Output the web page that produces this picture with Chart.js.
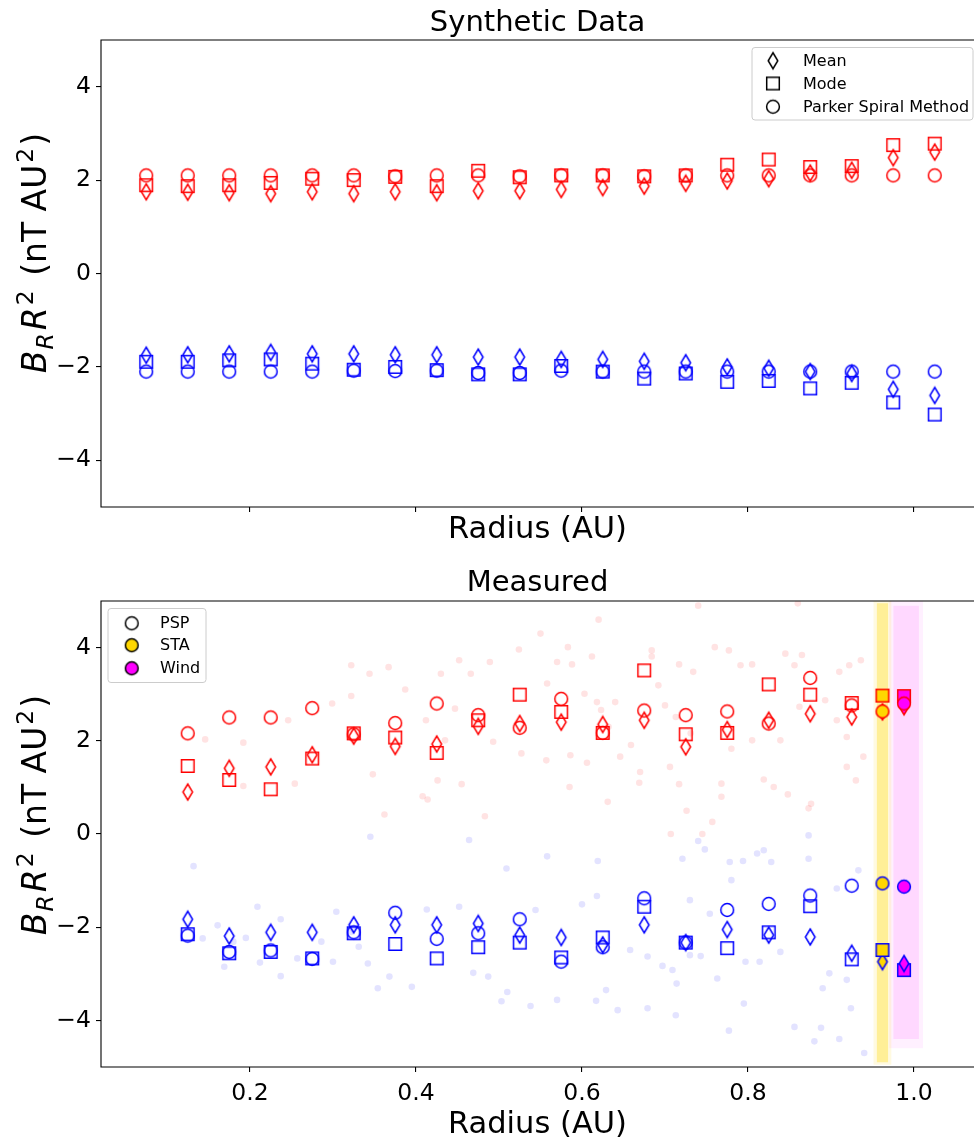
<!DOCTYPE html>
<html>
<head>
<meta charset="utf-8">
<script src="https://cdn.jsdelivr.net/npm/chart.js@4.4.0/dist/chart.umd.min.js"></script>
<style>
  html, body { margin: 0; padding: 0; background: #fff; }
  #wrap { position: relative; width: 974px; height: 1142px; overflow: hidden; }
  .panel { position: absolute; left: 0; width: 974px; }
  #top { top: 0; height: 560px; }
  #bot { top: 560px; height: 582px; }
</style>
</head>
<body>
<div id="wrap">
  <div class="panel" id="top"><canvas id="synChart"></canvas></div>
  <div class="panel" id="bot"><canvas id="measChart"></canvas></div>
</div>
<script>
// --- axes ---
const xTicks = [0.2, 0.4, 0.6, 0.8, 1.0];
const xTickLabels = ['0.2', '0.4', '0.6', '0.8', '1.0'];
const yTicks = [-4, -2, 0, 2, 4];
const yTickLabels = ['\u22124', '\u22122', '0', '2', '4'];

// --- Synthetic data (top panel) ---
const synR = [0.075, 0.125, 0.175, 0.225, 0.275, 0.325, 0.375, 0.425, 0.475, 0.525,
              0.575, 0.625, 0.675, 0.725, 0.775, 0.825, 0.875, 0.925, 0.975, 1.025];
const synMeanPos = [1.75, 1.74, 1.73, 1.71, 1.75, 1.71, 1.75, 1.73, 1.77, 1.77,
                    1.80, 1.84, 1.87, 1.93, 1.98, 2.03, 2.15, 2.21, 2.48, 2.60];
const synModePos = [1.89, 1.87, 1.89, 1.94, 2.03, 2.00, 2.07, 1.87, 2.20, 2.06,
                    2.10, 2.10, 2.08, 2.10, 2.33, 2.44, 2.28, 2.30, 2.75, 2.78];
const synPSPos   = [2.10, 2.10, 2.10, 2.10, 2.10, 2.10, 2.08, 2.10, 2.10, 2.08,
                    2.10, 2.10, 2.08, 2.10, 2.10, 2.10, 2.10, 2.10, 2.10, 2.10];
const synMeanNeg = [-1.75, -1.74, -1.72, -1.69, -1.72, -1.72, -1.74, -1.74, -1.79, -1.79,
                    -1.84, -1.84, -1.88, -1.91, -2.00, -2.03, -2.10, -2.14, -2.48, -2.61];
const synModeNeg = [-1.89, -1.89, -1.86, -1.84, -1.93, -2.06, -2.00, -2.07, -2.16, -2.16,
                    -1.98, -2.10, -2.25, -2.14, -2.32, -2.30, -2.46, -2.34, -2.76, -3.02];
const synPSNeg   = [-2.10, -2.10, -2.10, -2.10, -2.10, -2.08, -2.09, -2.08, -2.13, -2.13,
                    -2.08, -2.10, -2.10, -2.10, -2.10, -2.10, -2.10, -2.10, -2.10, -2.10];

// --- Measured (bottom panel), PSP bins ---
const pspR = [0.125, 0.175, 0.225, 0.275, 0.325, 0.375, 0.425, 0.475, 0.525,
              0.575, 0.625, 0.675, 0.725, 0.775, 0.825, 0.875, 0.925];
const pspMeanPos = [0.90, 1.41, 1.44, 1.70, 2.10, 1.88, 1.93, 2.31, 2.37,
                    2.40, 2.35, 2.44, 1.87, 2.24, 2.44, 2.58, 2.51];
const pspModePos = [1.46, 1.16, 0.96, 1.62, 2.16, 2.07, 1.74, 2.44, 2.99,
                    2.62, 2.17, 3.51, 2.14, 2.17, 3.21, 2.99, 2.81];
const pspPSPos   = [2.16, 2.50, 2.50, 2.70, 2.14, 2.38, 2.80, 2.55, 2.28,
                    2.90, 2.17, 2.65, 2.55, 2.63, 2.37, 3.35, 2.76];
const pspMeanNeg = [-1.83, -2.19, -2.11, -2.11, -1.95, -1.95, -1.95, -1.92, -2.17,
                    -2.22, -2.38, -1.95, -2.33, -2.05, -2.17, -2.21, -2.56];
const pspModeNeg = [-2.15, -2.56, -2.53, -2.67, -2.13, -2.36, -2.67, -2.43, -2.33,
                    -2.65, -2.22, -1.56, -2.33, -2.45, -2.11, -1.55, -2.69];
const pspPSNeg   = [-2.18, -2.53, -2.50, -2.68, -2.11, -1.69, -2.25, -2.13, -1.83,
                    -2.74, -2.43, -1.38, -2.33, -1.63, -1.50, -1.32, -1.11];

// STA and Wind (1 AU spacecraft)
const staR = [0.962];
const staMeanPos = [2.62], staModePos = [2.97], staPSPos = [2.63];
const staMeanNeg = [-2.74], staModeNeg = [-2.49], staPSNeg = [-1.06];
const windR = [0.988];
const windMeanPos = [2.73], windModePos = [2.96], windPSPos = [2.80];
const windMeanNeg = [-2.78], windModeNeg = [-2.92], windPSNeg = [-1.13];

// faint individual PSP samples [r, BrR2]
const pspDotsPos = [
  [0.322, 3.62], [0.367, 3.58], [0.344, 3.44], [0.430, 3.44], [0.466, 3.44], [0.452, 3.73],
  [0.489, 3.69], [0.524, 3.96], [0.583, 4.01], [0.570, 3.69], [0.588, 3.64], [0.612, 3.81],
  [0.684, 3.94], [0.684, 3.81], [0.717, 3.64], [0.734, 3.48], [0.760, 4.01], [0.777, 3.94],
  [0.791, 3.62], [0.805, 3.64], [0.845, 3.87], [0.865, 3.84], [0.856, 3.62], [0.910, 3.48],
  [0.922, 3.62], [0.936, 3.73], [0.146, 2.03], [0.192, 1.96], [0.246, 2.44], [0.254, 1.08],
  [0.192, 1.03], [0.299, 2.80], [0.322, 2.96], [0.348, 1.28], [0.387, 3.10], [0.412, 2.44],
  [0.447, 2.69], [0.435, 2.01], [0.408, 0.81], [0.414, 0.74], [0.362, 0.42], [0.483, 0.38],
  [0.455, 1.07], [0.426, 1.15], [0.493, 1.98], [0.527, 1.73], [0.558, 3.23], [0.557, 1.58],
  [0.586, 1.69], [0.603, 3.01], [0.618, 2.83], [0.640, 2.83], [0.632, 2.30], [0.646, 1.66],
  [0.659, 1.91], [0.669, 1.10], [0.670, 1.33], [0.631, 0.69], [0.692, 3.19], [0.700, 2.76],
  [0.713, 2.51], [0.731, 2.16], [0.706, 1.44], [0.717, 1.07], [0.726, 0.50], [0.707, 0.00],
  [0.745, 0.00], [0.757, 0.26], [0.768, 0.80], [0.780, 1.83], [0.805, 2.01], [0.819, 1.17],
  [0.831, 1.01], [0.848, 0.85], [0.873, 0.55], [0.876, 0.65], [0.839, 2.01], [0.862, 2.73],
  [0.919, 1.44], [0.930, 1.15], [0.939, 1.66], [0.907, 2.44], [0.893, 2.87], [0.919, 2.08],
  [0.585, 1.01], [0.606, 1.53], [0.768, 1.08], [0.623, 2.66], [0.740, 4.90], [0.860, 4.95],
  [0.620, 4.60], [0.550, 4.30]
];
const pspDotsNeg = [
  [0.132, -0.69], [0.161, -1.96], [0.143, -2.24], [0.169, -2.85], [0.180, -2.31], [0.195, -2.23],
  [0.209, -1.56], [0.212, -2.76], [0.237, -3.05], [0.237, -1.83], [0.257, -2.67], [0.286, -2.31],
  [0.300, -2.74], [0.304, -1.67], [0.322, -2.10], [0.331, -2.42], [0.342, -2.78], [0.345, -0.06],
  [0.354, -3.31], [0.368, -3.06], [0.395, -3.28], [0.413, -1.62], [0.452, -1.56], [0.464, -0.13],
  [0.469, -2.98], [0.487, -3.06], [0.503, -3.59], [0.510, -3.39], [0.509, -0.74], [0.538, -3.69],
  [0.544, -1.63], [0.558, -0.48], [0.570, -3.56], [0.600, -1.51], [0.618, -1.33], [0.619, -0.58],
  [0.617, -3.58], [0.629, -3.35], [0.643, -3.78], [0.658, -2.49], [0.679, -3.74], [0.697, -2.83],
  [0.713, -3.89], [0.714, -3.21], [0.721, -0.53], [0.730, -1.42], [0.740, -0.15], [0.748, -0.33],
  [0.754, -1.71], [0.763, -3.10], [0.777, -4.22], [0.778, -0.60], [0.780, -0.99], [0.795, -3.64],
  [0.794, -0.58], [0.811, -0.42], [0.819, -0.35], [0.828, -0.60], [0.797, -2.74], [0.814, -2.74],
  [0.839, -2.53], [0.856, -4.14], [0.873, -0.03], [0.873, -0.53], [0.890, -3.31], [0.898, -2.99],
  [0.888, -4.16], [0.907, -1.17], [0.919, -3.13], [0.924, -3.74], [0.933, -0.78], [0.679, -2.63],
  [0.709, -2.92], [0.730, -2.60], [0.743, -2.62], [0.880, -4.45], [0.910, -4.40], [0.940, -4.70]
];
// extent of the dense STA / Wind sample clouds: core and fringe [rMin, rMax], [BrMin, BrMax]
const staCoreR = [0.955, 0.969], staCoreB = [-4.9, 4.95];
const staEdgeR = [0.951, 0.973], staEdgeB = [-4.95, 5.0];
const windCoreR = [0.975, 1.006], windCoreB = [-4.4, 4.9];
const windEdgeR = [0.970, 1.011], windEdgeB = [-4.6, 5.0];

// ---------------------------------------------------------------
Chart.defaults.font.family = "'DejaVu Sans', sans-serif";
Chart.defaults.color = '#000';
Chart.defaults.animation = false;

const RED = '#ff0000', BLUE = '#0000ff', GOLD = '#ffd700', MAG = '#ff00ff';

// markers matplotlib-style (d = thin diamond, s = square, o = circle)
function marker(shape, edge, face) {
  const c = document.createElement('canvas');
  const w = shape === 'd' ? 14 : 18, h = shape === 'd' ? 20 : 18;
  c.width = w; c.height = h;
  const g = c.getContext('2d');
  const cx = w / 2, cy = h / 2;
  g.lineWidth = 1.5;
  g.strokeStyle = edge;
  g.beginPath();
  if (shape === 'o') g.arc(cx, cy, 6.4, 0, Math.PI * 2);
  else if (shape === 's') g.rect(cx - 6.3, cy - 6.3, 12.6, 12.6);
  else {
    g.moveTo(cx, cy - 8); g.lineTo(cx + 4.8, cy);
    g.lineTo(cx, cy + 8); g.lineTo(cx - 4.8, cy); g.closePath();
  }
  if (face) { g.fillStyle = face; g.fill(); }
  g.stroke();
  return c;
}

function pts(xs, ys) { return xs.map((x, i) => ({ x: x, y: ys[i] })); }

function marks(xs, ys, style) {
  return { data: pts(xs, ys), pointStyle: style, pointRadius: 7, hoverRadius: 7, showLine: false, order: 0 };
}

function dots(pairs, color) {
  return {
    data: pairs.map(p => ({ x: p[0], y: p[1] })),
    pointStyle: 'circle', pointRadius: 3.3, borderWidth: 0,
    backgroundColor: color, showLine: false, order: 2
  };
}

function cloud(rs, bs, color) {
  return {
    type: 'line', data: [{ x: rs[0], y: bs[1] }, { x: rs[1], y: bs[1] }],
    showLine: true, borderWidth: 0, pointRadius: 0, tension: 0,
    backgroundColor: color, fill: { value: bs[0] }, order: 1
  };
}

// B_R R^2 (nT AU^2) drawn with sub/superscripts
function drawYLabel(ctx, bx, cy) {
  const big = 33, small = 23.5;
  const parts = [
    { t: 'B', f: 'italic ' + big + 'px DejaVu Sans', dy: 0, gap: 0 },
    { t: 'R', f: 'italic ' + small + 'px DejaVu Sans', dy: 6.5, gap: 1 },
    { t: 'R', f: 'italic ' + big + 'px DejaVu Sans', dy: 0, gap: 3 },
    { t: '2', f: small + 'px DejaVu Sans', dy: -13, gap: 2 },
    { t: ' (nT AU', f: big + 'px DejaVu Sans', dy: 0, gap: 4 },
    { t: '2', f: small + 'px DejaVu Sans', dy: -13, gap: 2 },
    { t: ')', f: big + 'px DejaVu Sans', dy: 0, gap: 2 }
  ];
  let total = 0;
  parts.forEach(p => { ctx.font = p.f; p.w = ctx.measureText(p.t).width; total += p.w + p.gap; });
  ctx.save();
  ctx.translate(bx, cy);
  ctx.rotate(-Math.PI / 2);
  ctx.textAlign = 'left';
  ctx.textBaseline = 'alphabetic';
  let x = -total / 2;
  parts.forEach(p => { x += p.gap; ctx.font = p.f; ctx.fillText(p.t, x, p.dy); x += p.w; });
  ctx.restore();
}

// spines, legend box and titles
function makeDecor(spec) {
  return {
    id: 'decor',
    afterDraw(chart) {
      const ctx = chart.ctx, a = chart.chartArea;
      ctx.save();
      ctx.strokeStyle = '#000';
      ctx.lineWidth = 1.1;
      ctx.beginPath();
      ctx.moveTo(a.right, a.top); ctx.lineTo(a.left, a.top);
      ctx.lineTo(a.left, a.bottom); ctx.lineTo(a.right, a.bottom);
      ctx.stroke();

      const L = spec.legend;
      ctx.beginPath();
      ctx.roundRect(L.x, L.y, L.w, L.h, 3);
      ctx.fillStyle = 'rgba(255,255,255,0.8)';
      ctx.fill();
      ctx.strokeStyle = '#cccccc';
      ctx.lineWidth = 1;
      ctx.stroke();
      ctx.font = '16px DejaVu Sans';
      ctx.fillStyle = '#000';
      ctx.textAlign = 'left';
      ctx.textBaseline = 'middle';
      L.items.forEach((it, i) => {
        const yy = L.rows[i];
        ctx.drawImage(it.m, L.mx - it.m.width / 2, yy - it.m.height / 2);
        ctx.fillText(it.label, L.tx, yy + 1);
      });

      const cx = (a.left + a.right) / 2;
      ctx.textAlign = 'center';
      ctx.textBaseline = 'alphabetic';
      ctx.font = '29px DejaVu Sans';
      ctx.fillText(spec.title, cx, spec.titleY);
      ctx.font = '30.5px DejaVu Sans';
      ctx.fillText('Radius (AU)', cx, spec.xLabelY);
      drawYLabel(ctx, 46, spec.yLabelY);
      ctx.restore();
    }
  };
}

function scales(showXLabels, xHeight) {
  return {
    x: {
      type: 'linear', min: 0.0205, max: 1.0723,
      afterBuildTicks: s => { s.ticks = xTicks.map(v => ({ value: v })); },
      afterFit: s => { s.height = xHeight; },
      border: { display: false },
      grid: { drawOnChartArea: false, drawTicks: true, tickLength: 5, color: '#000', lineWidth: 1.1 },
      ticks: {
        display: showXLabels, padding: 8, maxRotation: 0, autoSkip: false,
        font: { size: 23.5 }, color: '#000',
        callback: (v, i) => xTickLabels[i]
      }
    },
    y: {
      type: 'linear', min: -5, max: 5,
      afterBuildTicks: s => { s.ticks = yTicks.map(v => ({ value: v })); },
      afterFit: s => { s.width = 65; },
      border: { display: false },
      grid: { drawOnChartArea: false, drawTicks: true, tickLength: 5, color: '#000', lineWidth: 1.1 },
      ticks: {
        padding: 5, autoSkip: false, font: { size: 23.5 }, color: '#000',
        callback: (v, i) => yTickLabels[i]
      }
    }
  };
}

function baseOptions(showXLabels, xHeight, padTop) {
  return {
    responsive: true,
    maintainAspectRatio: false,
    animation: false,
    events: [],
    layout: { autoPadding: false, padding: { top: padTop, left: 36, right: 0, bottom: 0 } },
    plugins: { legend: { display: false }, tooltip: { enabled: false }, title: { display: false } },
    scales: scales(showXLabels, xHeight)
  };
}

// --- Top: synthetic data ---
new Chart(document.getElementById('synChart'), {
  type: 'scatter',
  data: {
    datasets: [
      marks(synR, synPSPos, marker('o', RED)),
      marks(synR, synModePos, marker('s', RED)),
      marks(synR, synMeanPos, marker('d', RED)),
      marks(synR, synPSNeg, marker('o', BLUE)),
      marks(synR, synModeNeg, marker('s', BLUE)),
      marks(synR, synMeanNeg, marker('d', BLUE))
    ]
  },
  options: baseOptions(false, 53, 40),
  plugins: [makeDecor({
    title: 'Synthetic Data', titleY: 31, xLabelY: 538, yLabelY: 253,
    legend: {
      x: 752, y: 47.5, w: 221, h: 72.5, mx: 773, tx: 803, rows: [60.7, 83.5, 106.7],
      items: [
        { m: marker('d', '#000'), label: 'Mean' },
        { m: marker('s', '#000'), label: 'Mode' },
        { m: marker('o', '#000'), label: 'Parker Spiral Method' }
      ]
    }
  })]
});

// --- Bottom: measured ---
new Chart(document.getElementById('measChart'), {
  type: 'scatter',
  data: {
    datasets: [
      marks(pspR, pspPSPos, marker('o', RED)),
      marks(pspR, pspModePos, marker('s', RED)),
      marks(pspR, pspMeanPos, marker('d', RED)),
      marks(pspR, pspPSNeg, marker('o', BLUE)),
      marks(pspR, pspModeNeg, marker('s', BLUE)),
      marks(pspR, pspMeanNeg, marker('d', BLUE)),
      marks(staR, staPSPos, marker('o', RED, GOLD)),
      marks(staR, staModePos, marker('s', RED, GOLD)),
      marks(staR, staMeanPos, marker('d', RED, GOLD)),
      marks(staR, staPSNeg, marker('o', BLUE, GOLD)),
      marks(staR, staModeNeg, marker('s', BLUE, GOLD)),
      marks(staR, staMeanNeg, marker('d', BLUE, GOLD)),
      marks(windR, windPSPos, marker('o', RED, MAG)),
      marks(windR, windModePos, marker('s', RED, MAG)),
      marks(windR, windMeanPos, marker('d', RED, MAG)),
      marks(windR, windPSNeg, marker('o', BLUE, MAG)),
      marks(windR, windMeanNeg, marker('d', BLUE, MAG)),
      marks(windR, windModeNeg, marker('s', BLUE, MAG)),
      cloud(staCoreR, staCoreB, 'rgba(255,215,0,0.33)'),
      cloud(staEdgeR, staEdgeB, 'rgba(255,215,0,0.12)'),
      cloud(windCoreR, windCoreB, 'rgba(255,0,255,0.1)'),
      cloud(windEdgeR, windEdgeB, 'rgba(255,0,255,0.06)'),
      dots(pspDotsPos, 'rgba(255,0,0,0.11)'),
      dots(pspDotsNeg, 'rgba(0,0,255,0.11)')
    ]
  },
  options: baseOptions(true, 75, 41),
  plugins: [makeDecor({
    title: 'Measured', titleY: 31, xLabelY: 573, yLabelY: 255,
    legend: {
      x: 108, y: 48.5, w: 98, h: 74, mx: 131.7, tx: 160, rows: [63.3, 85.2, 108.3],
      items: [
        { m: marker('o', '#000', '#ffffff'), label: 'PSP' },
        { m: marker('o', '#000', GOLD), label: 'STA' },
        { m: marker('o', '#000', MAG), label: 'Wind' }
      ]
    }
  })]
});
</script>
</body>
</html>
